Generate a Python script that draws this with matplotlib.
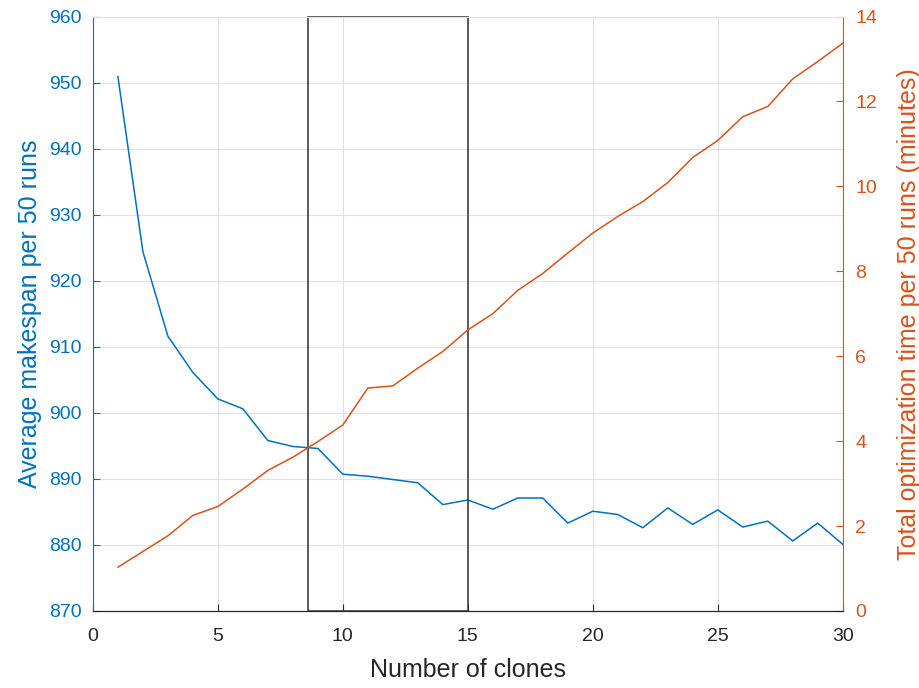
import matplotlib.pyplot as plt
from matplotlib.patches import Rectangle

plt.rcParams.update(
    {
        "font.family": ["Liberation Sans", "DejaVu Sans"],
        "font.size": 14,
    }
)

BLUE = "#0072BD"
ORANGE = "#D95319"
GRAY = "#262626"

# ── Data ──────────────────────────────────────────────────────────────────────
clones = list(range(1, 31))
makespan = [950.9, 924.4, 911.6, 906.1, 902.1, 900.6, 895.8, 894.9, 894.6, 890.7,
            890.4, 889.9, 889.4, 886.1, 886.8, 885.4, 887.1, 887.1, 883.3, 885.1,
            884.6, 882.6, 885.6, 883.1, 885.3, 882.7, 883.6, 880.6, 883.3, 880.1]
opt_time = [1.03, 1.40, 1.77, 2.25, 2.46, 2.87, 3.31, 3.62, 3.99, 4.38,
            5.25, 5.30, 5.72, 6.11, 6.62, 7.00, 7.55, 7.95, 8.43, 8.90,
            9.29, 9.64, 10.09, 10.68, 11.08, 11.64, 11.88, 12.53, 12.94, 13.37]

box_x = [8.6, 15]
xticks = [0, 5, 10, 15, 20, 25, 30]
left_ticks = list(range(870, 961, 10))
right_ticks = list(range(0, 15, 2))

# ── Figure ────────────────────────────────────────────────────────────────────
fig = plt.figure(figsize=(9.2, 6.88), dpi=100)
ax = fig.add_axes([0.101, 0.112, 0.815, 0.864])
ax2 = ax.twinx()

ax.plot(clones, makespan, color=BLUE, lw=1.1, zorder=3)
ax2.plot(clones, opt_time, color=ORANGE, lw=1.1, zorder=3)

ax.add_patch(
    Rectangle((box_x[0], left_ticks[0]), box_x[1] - box_x[0],
              left_ticks[-1] - left_ticks[0],
              fill=False, edgecolor="#404040", lw=1.2, zorder=4, clip_on=False)
)

ax.set_xlim(0, 30)
ax.set_ylim(870, 960)
ax2.set_ylim(0, 14)
ax.set_xticks(xticks)
ax.set_yticks(left_ticks)
ax2.set_yticks(right_ticks)

ax.grid(True, color="#DEE2E6", lw=0.8)
ax.set_axisbelow(True)

ax.tick_params(axis="x", direction="in", colors=GRAY, labelsize=14, length=5, pad=12)
ax.tick_params(axis="y", direction="in", colors=BLUE, labelsize=14, length=5, pad=8)
ax2.tick_params(axis="y", direction="in", colors=ORANGE, labelsize=14, length=5, pad=9)

for a in (ax, ax2):
    a.spines["top"].set_color("#DEE2E6")
    a.spines["bottom"].set_color(GRAY)
ax.spines["left"].set_color(BLUE)
ax2.spines["left"].set_visible(False)
ax.spines["right"].set_visible(False)
ax2.spines["right"].set_color(ORANGE)

ax.set_xlabel("Number of clones", color=GRAY, fontsize=18)
ax.set_ylabel("Average makespan per 50 runs", color=BLUE, fontsize=18)
ax2.set_ylabel("Total optimization time per 50 runs (minutes)", color=ORANGE,
               fontsize=18)
ax.xaxis.set_label_coords(0.5, -0.079)
ax.yaxis.set_label_coords(-0.068, 0.5)
ax2.yaxis.set_label_coords(1.073, 0.5)

fig.savefig("out.png", dpi=100)
